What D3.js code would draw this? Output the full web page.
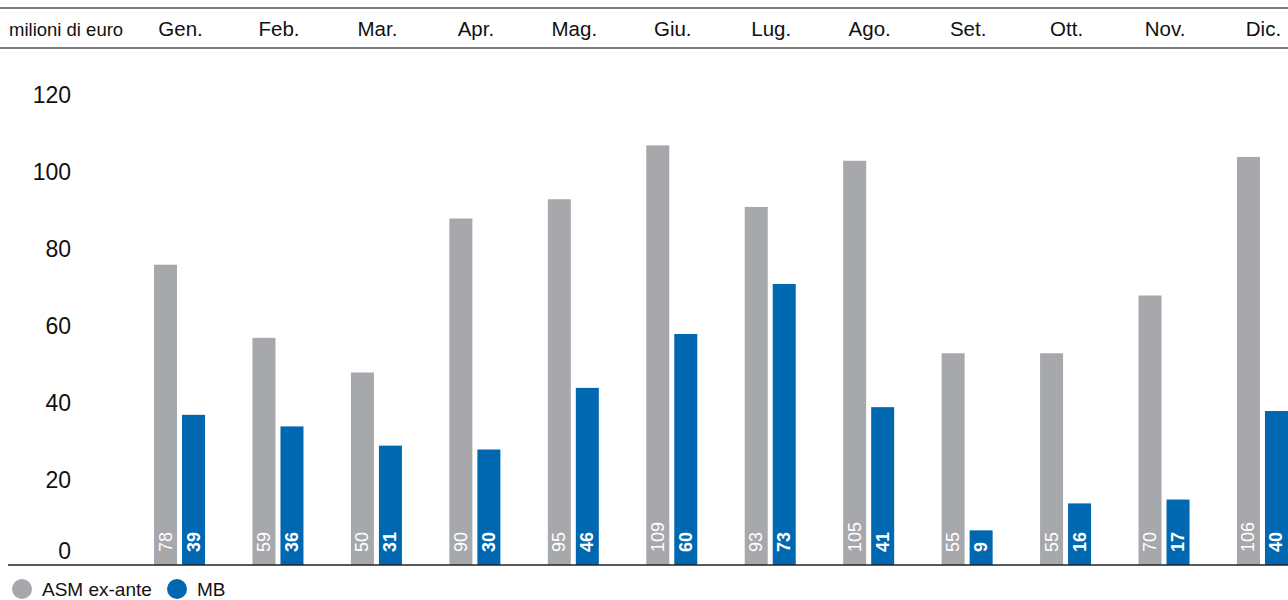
<!DOCTYPE html>
<html>
<head>
<meta charset="utf-8">
<script src="https://cdn.jsdelivr.net/npm/d3@7"></script>
<style>
	body { margin: 0; background: #fff; }
	svg { display: block; font-family: 'Liberation Sans', Arial, sans-serif; }
</style>
</head>
<body>
<div id="divChart"></div>
<script>
'use strict';

const chartWidth = 1288;
const chartHeight = 600;

const months = ['Gen.', 'Feb.', 'Mar.', 'Apr.', 'Mag.', 'Giu.', 'Lug.', 'Ago.', 'Set.', 'Ott.', 'Nov.', 'Dic.'];
const asmValues = [78, 59, 50, 90, 95, 109, 93, 105, 55, 55, 70, 106];
const mbValues = [39, 36, 31, 30, 46, 60, 73, 41, 9, 16, 17, 40];
const yTicks = [0, 20, 40, 60, 80, 100, 120];
const seriesNames = ['ASM ex-ante', 'MB'];
const seriesColors = ['#a7a8ab', '#0067b1'];

const baseline = 565;
const barWidth = 23;
const barGap = 5;

const svg = d3.select('#divChart')
	.append('svg')
	.attr('width', chartWidth)
	.attr('height', chartHeight);

const x = d3.scaleBand()
	.domain(months)
	.range([130.3, 130.3 + 12 * 98.45])
	.padding(0);

const y = d3.scaleLinear()
	.domain([0, 120])
	.range([baseline, baseline - 120 * 3.85]);

// header band
svg.append('line')
	.attr('x1', 0).attr('x2', chartWidth)
	.attr('y1', 8).attr('y2', 8)
	.style('stroke', '#555').style('stroke-width', 1.5);
svg.append('line')
	.attr('x1', 0).attr('x2', chartWidth)
	.attr('y1', 48).attr('y2', 48)
	.style('stroke', '#555').style('stroke-width', 1.5);
svg.append('text')
	.attr('x', 9).attr('y', 31)
	.attr('dominant-baseline', 'middle')
	.style('font-size', '18.5px')
	.style('fill', '#111')
	.text('milioni di euro');
svg.selectAll('.month')
	.data(months)
	.join('text')
	.attr('class', 'month')
	.attr('x', d => x(d) + x.bandwidth() / 2 + 1)
	.attr('y', 31)
	.attr('text-anchor', 'middle')
	.attr('dominant-baseline', 'middle')
	.style('font-size', '20.5px')
	.style('fill', '#111')
	.text(d => d);

// y axis labels
const yAxis = svg.append('g')
	.attr('transform', 'translate(71,0)')
	.call(d3.axisLeft(y).tickValues(yTicks).tickSize(0).tickPadding(0));
yAxis.select('.domain').remove();
yAxis.selectAll('text')
	.attr('dy', d => d == 0 ? -13 : -7)
	.attr('dominant-baseline', 'middle')
	.attr('font-family', null)
	.attr('font-size', null)
	.style('font-size', '23px')
	.style('fill', '#111');

// bars
const offsets = [-barGap / 2 - barWidth, barGap / 2];
[asmValues, mbValues].forEach((values, s) => {
	const group = svg.append('g');
	group.selectAll('rect')
		.data(values)
		.join('rect')
		.attr('x', (d, i) => x(months[i]) + x.bandwidth() / 2 + offsets[s])
		.attr('y', d => y(d))
		.attr('width', barWidth)
		.attr('height', d => y(0) - y(d))
		.style('fill', seriesColors[s]);
	group.selectAll('text')
		.data(values)
		.join('text')
		.attr('transform', (d, i) => `translate(${x(months[i]) + x.bandwidth() / 2 + offsets[s] + barWidth / 2},${baseline - 13}) rotate(-90)`)
		.attr('dominant-baseline', 'central')
		.style('font-size', '18px')
		.style('font-weight', s == 1 ? 'bold' : 'normal')
		.style('fill', '#fff')
		.text(d => d);
});

// baseline
svg.append('line')
	.attr('x1', 8).attr('x2', chartWidth)
	.attr('y1', baseline).attr('y2', baseline)
	.style('stroke', '#222').style('stroke-width', 1.5);

// legend
const legendX = [22, 177];
seriesNames.forEach((name, s) => {
	svg.append('circle')
		.attr('cx', legendX[s]).attr('cy', 589)
		.attr('r', 10)
		.style('fill', seriesColors[s]);
	svg.append('text')
		.attr('x', legendX[s] + 20).attr('y', 591)
		.attr('dominant-baseline', 'middle')
		.style('font-size', '19px')
		.style('fill', '#111')
		.text(name);
});
</script>
</body>
</html>
